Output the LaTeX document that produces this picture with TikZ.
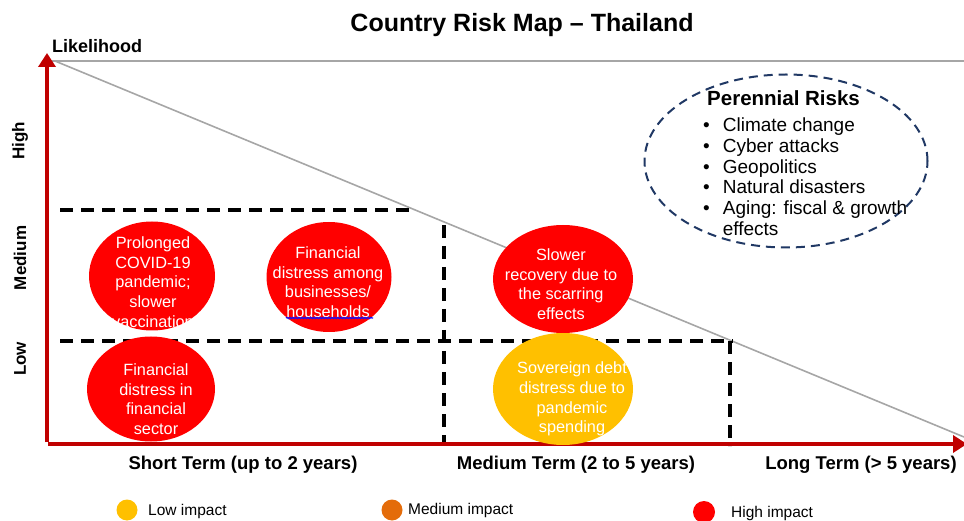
\documentclass[tikz,border=0pt]{standalone}
\usepackage{fontspec}
\setmainfont{Liberation Sans}
\usetikzlibrary{arrows.meta,shapes.geometric,decorations.pathmorphing}
\definecolor{axisred}{HTML}{C00000}
\definecolor{hired}{HTML}{FF0000}
\definecolor{lowyel}{HTML}{FFC000}
\definecolor{medor}{HTML}{E46C0A}
\definecolor{navy}{HTML}{203864}
\definecolor{lgray}{HTML}{A6A6A6}
\definecolor{spellblue}{HTML}{1010FF}
\tikzset{
  axis/.style={axisred,line width=4.5pt,-{Triangle[width=17pt,length=14pt]}},
  grayline/.style={lgray,line width=1.6pt},
  grid/.style={black,line width=3.2pt,dash pattern=on 13pt off 8pt},
  risk/.style={ellipse,draw=none,inner sep=0pt},
  risktext/.style={text=white,align=center,inner sep=0pt,font=\fontsize{16.3}{19.6}\selectfont},
  ylab/.style={rotate=90,font=\bfseries\fontsize{17}{20}\selectfont},
  xlab/.style={font=\bfseries\fontsize{18.5}{21}\selectfont},
  legdot/.style={circle,inner sep=0pt,minimum size=21pt},
  legtext/.style={anchor=west,font=\fontsize{15.5}{18}\selectfont,inner sep=0pt}
}
\begin{document}
\begin{tikzpicture}[x=1pt,y=-1pt]
\useasboundingbox (0,0) rectangle (964,521);
% title
\node[font=\bfseries\fontsize{25}{29}\selectfont] (title) at (522,25) {Country Risk Map -- Thailand};
% gray reference lines
\coordinate (g0) at (52,61);
\coordinate (g1) at (964,61);
\coordinate (d0) at (55,61);
\coordinate (d1) at (964,437);
\draw[grayline] (g0) -- (g1);
\draw[grayline] (d0) -- (d1);
% dashed grid
\coordinate (h1a) at (60,210);
\coordinate (h1b) at (415,210);
\coordinate (v1a) at (444,225);
\coordinate (v1b) at (444,442);
\coordinate (h2a) at (60,341);
\coordinate (h2b) at (733,341);
\coordinate (v2a) at (730,341);
\coordinate (v2b) at (730,446);
\draw[grid] (h1a) -- (h1b);
\draw[grid] (v1a) -- (v1b);
\draw[grid] (h2a) -- (h2b);
\draw[grid] (v2a) -- (v2b);
% axes
\coordinate (yb) at (47,442);
\coordinate (yt) at (47,53);
\coordinate (xb) at (48,444);
\coordinate (xt) at (967,444);
\draw[axis] (yb) -- (yt);
\draw[axis] (xb) -- (xt);
\node[anchor=west,font=\bfseries\fontsize{18}{21}\selectfont,inner sep=0pt] (lik) at (52,46) {Likelihood};
\node[ylab] (high) at (20,141) {High};
\node[ylab] (med) at (20,258) {Medium};
\node[ylab] (low) at (20,359) {Low};
\node[xlab] (st) at (243,465) {Short Term (up to 2 years)};
\node[xlab] (mt) at (576,465) {Medium Term (2 to 5 years)};
\node[xlab] (lt) at (861,465) {Long Term (> 5 years)};
% risk ellipses
\node[risk,fill=hired,minimum width=126pt,minimum height=109pt] (e1) at (152,276) {};
\node[risk,fill=hired,minimum width=125pt,minimum height=110pt] (e2) at (329,277) {};
\node[risk,fill=hired,minimum width=128pt,minimum height=105pt] (e3) at (151,389) {};
\node[risk,fill=hired,minimum width=140pt,minimum height=108pt] (e4) at (563,279) {};
\node[risk,fill=lowyel,minimum width=140pt,minimum height=112pt] (e5) at (563,389) {};
\node[risktext] (t1) at (153,282) {Prolonged\\COVID-19\\pandemic;\\slower\\vaccination};
\node[risktext] (t2) at (328,282) {Financial\\distress among\\businesses/\\households};
\coordinate (u0) at (286,318);
\coordinate (u1) at (373,318);
\draw[spellblue,line width=1.2pt,decorate,decoration={snake,amplitude=0.6pt,segment length=3pt}] (u0) -- (u1);
\node[risktext] (t3) at (156,399) {Financial\\distress in\\financial\\sector};
\node[risktext] (t4) at (561,284) {Slower\\recovery due to\\the scarring\\effects};
\node[risktext] (t5) at (572,399) {Sovereign debt\\distress due to\\pandemic\\spending};
% perennial risks
\node[ellipse,draw=navy,line width=2pt,dash pattern=on 9pt off 6pt,minimum width=283pt,minimum height=173pt] (per) at (786,161) {};
\node[anchor=west,inner sep=0pt,font=\bfseries\fontsize{20.5}{24}\selectfont] (pt) at (707,98) {Perennial Risks};
\node[anchor=north west,inner sep=0pt,font=\fontsize{19}{20.7}\selectfont] (pl) at (703,117)
 {\begin{tabular}{@{}l@{\hspace{13pt}}l@{}}
 \textbullet & Climate change\\
 \textbullet & Cyber attacks\\
 \textbullet & Geopolitics\\
 \textbullet & Natural disasters\\
 \textbullet & Aging: fiscal \& growth\\
  & effects
 \end{tabular}};
% legend
\node[legdot,fill=lowyel] (l1) at (127,510) {};
\node[legtext] (l1t) at (148,511) {Low impact};
\node[legdot,fill=medor] (l2) at (392,510) {};
\node[legtext] (l2t) at (408,510) {Medium impact};
\node[legdot,fill=hired,minimum size=22pt] (l3) at (704,512) {};
\node[legtext] (l3t) at (731,513) {High impact};
\end{tikzpicture}
\end{document}
